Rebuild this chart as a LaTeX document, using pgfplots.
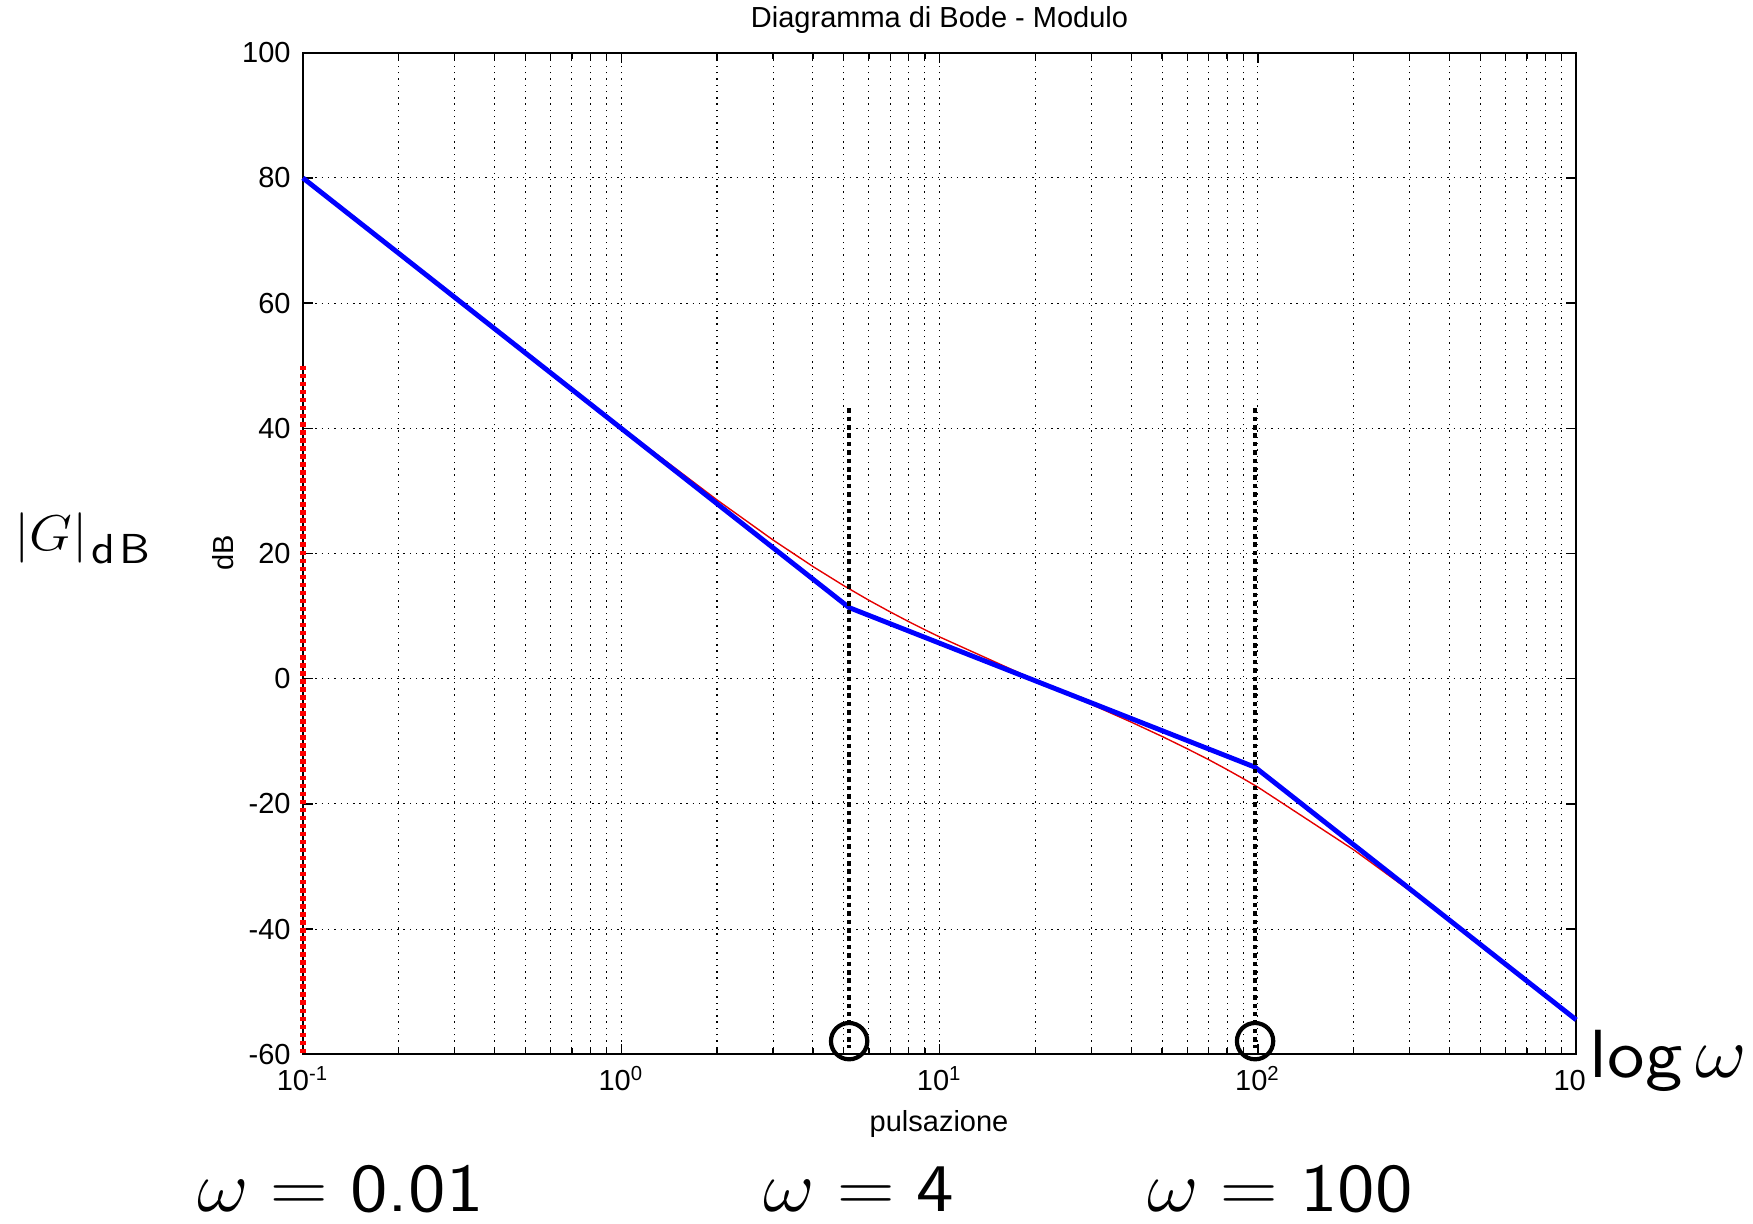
\documentclass[border=0pt]{standalone}
\usepackage{graphicx}
\usepackage{pgfplots}
\pgfplotsset{compat=1.18}
\usepackage{fontspec}
\newfontfamily\helv{Liberation Sans}
\newfontfamily\lmss{lmsans10-regular.otf}
\newcommand{\bigtxt}[1]{\scalebox{1.1}[1]{\lmss\fontsize{19.5}{22}\selectfont #1}}
\begin{document}
\begin{tikzpicture}
\begin{axis}[
  name=ax,
  at={(0,0)}, anchor=south west,
  scale only axis,
  width=364.5pt, height=286.7pt,
  xmode=log,
  xmin=0.1, xmax=1000,
  ymin=-60, ymax=100,
  clip=false,
  xtick={0.1,1,10,100,1000},
  xticklabels={10\textsuperscript{-1}, 10\textsuperscript{0}, 10\textsuperscript{1}, 10\textsuperscript{2}, 10\textsuperscript{3}},
  minor xtick={0.2,0.3,0.4,0.5,0.6,0.7,0.8,0.9,2,3,4,5,6,7,8,9,20,30,40,50,60,70,80,90,200,300,400,500,600,700,800,900},
  ytick={-60,-40,-20,0,20,40,60,80,100},
  yticklabels={-60,-40,-20,0,20,40,60,80,100},
  grid=both,
  major grid style={black, line width=0.3pt, dash pattern=on 0.4pt off 1.4pt},
  minor grid style={black, line width=0.3pt, dash pattern=on 0.4pt off 1.4pt},
  tick align=inside,
  major tick length=3pt, minor tick length=1.8pt,
  tick style={black, line width=0.4pt},
  axis line style={line width=0.5pt},
  ticklabel style={font=\helv\fontsize{8.3}{10}\selectfont},
  title={Diagramma di Bode - Modulo},
  title style={font=\helv\fontsize{8.3}{10}\selectfont, at={(0.5,1)}, anchor=south, yshift=-0.6pt, inner sep=0pt},
  xlabel={pulsazione},
  xlabel style={font=\helv\fontsize{8.3}{10}\selectfont, at={(axis description cs:0.4996,-0.0692)}, anchor=center},
  ylabel={dB},
  ylabel style={font=\helv\fontsize{8.3}{10}\selectfont, at={(axis description cs:-0.0623,0.501)}, anchor=center},
]
% exact magnitude
\addplot[red!90!black, line width=0.4pt] coordinates {
(0.1,80.00) (0.2,67.97) (0.3,60.93) (0.4,55.95) (0.5,52.08) (0.6,48.93) (0.7,46.28) (0.8,43.98) (0.9,41.96)
(1,40.16) (2,28.56) (3,22.16) (4,17.93) (5,14.87) (6,12.53) (7,10.67) (8,9.12) (9,7.81)
(10,6.68) (20,-0.23) (30,-4.11) (40,-6.93) (50,-9.22) (60,-11.19) (70,-12.92) (80,-14.51) (90,-15.97)
(100,-17.32) (200,-27.33) (300,-33.86) (400,-38.66) (500,-42.45) (600,-45.57) (700,-48.21) (800,-50.51) (900,-52.54)
(1000,-54.36)};
% asymptotic diagram
\addplot[blue, line width=1.4pt] coordinates {(0.1,80) (5.2,11.36) (98,-14.14) (1000,-54.49)};
% red dotted line on the left axis
\addplot[red, line width=1.6pt, dash pattern=on 1.3pt off 1pt] coordinates {(0.1,50) (0.1,-60)};
% black dotted verticals
\addplot[black, line width=1.3pt, dash pattern=on 1.3pt off 1.1pt] coordinates {(5.2,43.2) (5.2,-59)};
\addplot[black, line width=1.3pt, dash pattern=on 1.3pt off 1.1pt] coordinates {(98,43.2) (98,-59)};
% circles
\addplot[black, only marks, mark=o, mark size=5.2pt, mark options={line width=1.2pt, solid}] coordinates {(5.2,-57.9) (98,-57.9)};
% annotations
\node[anchor=base west, inner sep=0pt] at (rel axis cs:-0.227,0.5033)
  {\scalebox{1.1}[1]{\fontsize{14.8}{16}\selectfont$|G|$\hspace{0.8pt}\raisebox{-3.7pt}{\lmss\fontsize{12}{13}\selectfont d\hspace{1.2pt}B}}};
\node[fill=white, inner sep=1pt, anchor=base west] at (rel axis cs:1.0075,-0.0234) {\bigtxt{log\,$\omega$}};
\node[anchor=base west, inner sep=0pt] at (rel axis cs:-0.0834,-0.1571) {\bigtxt{$\omega = \mbox{0.01}$}};
\node[anchor=base west, inner sep=0pt] at (rel axis cs:0.3613,-0.1571) {\bigtxt{$\omega = \mbox{4}$}};
\node[anchor=base west, inner sep=0pt] at (rel axis cs:0.6626,-0.1571) {\bigtxt{$\omega = \mbox{100}$}};
\end{axis}
\path (ax.south west) ++(-86.7pt,-48.3pt) rectangle ++(501.8pt,350.1pt);
\end{tikzpicture}
\end{document}
